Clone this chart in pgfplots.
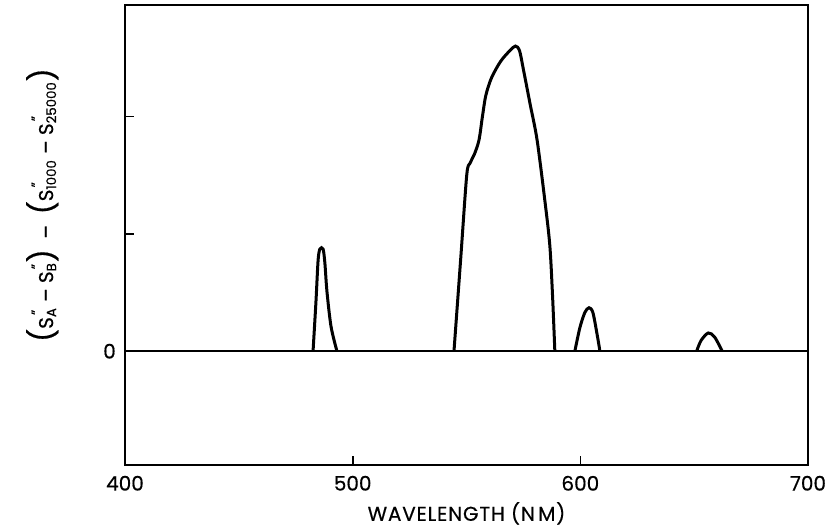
\documentclass[border=0pt]{standalone}
\usepackage{fontspec}
\setmainfont{Poppins}[FakeBold=0.5]
\newfontfamily\labfont{Poppins}[FakeBold=0.5, LetterSpace=4]
\usepackage{pgfplots}
\pgfplotsset{compat=1.18}
\newcommand{\Sdd}[1]{S\makebox[0pt][l]{\raisebox{1.1ex}{\footnotesize\,"}}\textsubscript{#1}}
\begin{document}
\begin{tikzpicture}
\useasboundingbox (-75pt,-39pt) rectangle (420.6pt,279pt);
\begin{axis}[
  scale only axis,
  width=409.8pt, height=276pt,
  xmin=400, xmax=700, ymin=-0.97, ymax=2.95,
  axis line style={line width=1.1pt},
  xtick={400,500,600,700},
  ytick={0,1,2}, yticklabels={0,,},
  tick align=inside, tick pos=left,
  major tick length=5.5pt,
  tick style={line width=1pt, black},
  /pgf/number format/assume math mode=true,
  /pgf/number format/1000 sep={},
  ticklabel style={font=\large},
  xticklabel style={yshift=-3pt},
  yticklabel style={xshift=-2pt},
  xlabel={WAVELENGTH (N\,M)},
  xlabel style={font=\labfont\large, yshift=0pt},
  ylabel={{\LARGE(}\Sdd{A} -- \Sdd{B}{\LARGE)} \ -- \ {\LARGE(}\Sdd{1000} -- \Sdd{25000}{\LARGE)}},
  ylabel style={font=\large, at={(ticklabel cs:0.565)}, yshift=20pt},
]
\addplot[black, line width=1.1pt] coordinates {(400,0) (700,0)};
\addplot[black, line width=1.8pt, smooth, tension=0.5] coordinates {
 (482.6,0) (483.9,0.43) (484.8,0.77) (485.6,0.87) (487.0,0.87) (487.8,0.75) (488.7,0.51) (490.5,0.21) (493.1,0)};
\addplot[black, line width=1.8pt, smooth, tension=0.5] coordinates {
 (544.5,0) (547.5,0.8) (550.1,1.50) (551.5,1.60) (553.5,1.68) (555.5,1.80) (557,2.0) (558.5,2.18) (561,2.33) (565,2.47) (569,2.56) (571.5,2.60) (573.3,2.56) (575,2.40) (578,2.10) (581,1.80) (584.5,1.27) (586.6,0.90) (587.8,0.47) (588.8,0)};
\addplot[black, line width=1.8pt, smooth, tension=0.5] coordinates {
 (597.6,0) (599.8,0.2) (602.0,0.33) (603.8,0.37) (605.5,0.33) (607.3,0.15) (608.6,0)};
\addplot[black, line width=1.8pt, smooth, tension=0.5] coordinates {
 (651.1,0) (653,0.09) (656.2,0.155) (659,0.12) (662.3,0)};
\end{axis}
\end{tikzpicture}
\end{document}
